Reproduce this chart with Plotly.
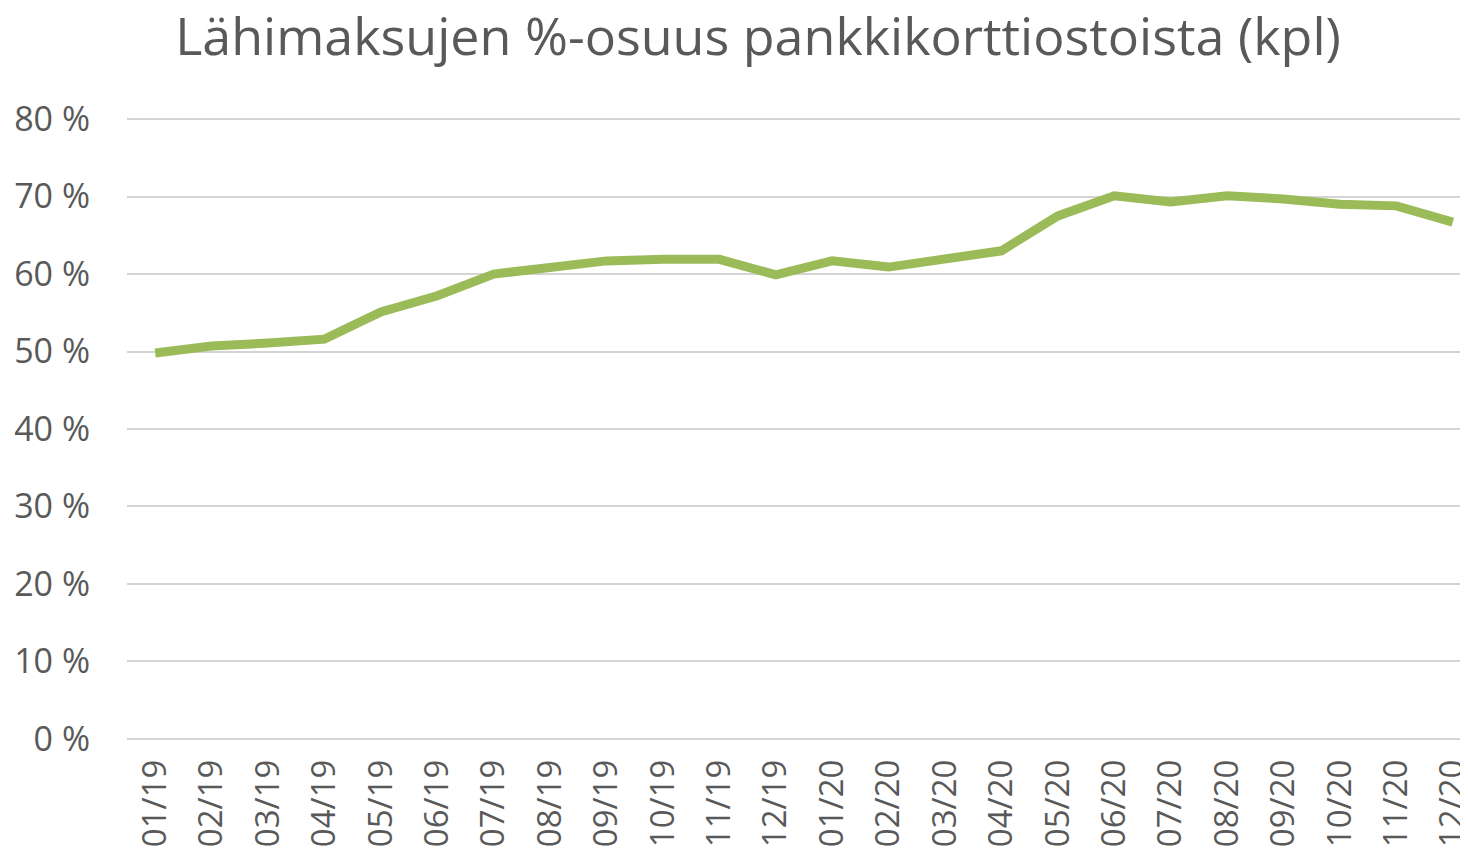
import plotly.graph_objects as go

months = ["01/19", "02/19", "03/19", "04/19", "05/19", "06/19", "07/19", "08/19",
          "09/19", "10/19", "11/19", "12/19", "01/20", "02/20", "03/20", "04/20",
          "05/20", "06/20", "07/20", "08/20", "09/20", "10/20", "11/20", "12/20"]
share = [0.498, 0.507, 0.511, 0.516, 0.551, 0.572, 0.600, 0.609,
         0.617, 0.619, 0.619, 0.599, 0.617, 0.609, 0.619, 0.630,
         0.675, 0.701, 0.693, 0.701, 0.697, 0.690, 0.688, 0.667]
ytick_vals = [0, 0.1, 0.2, 0.3, 0.4, 0.5, 0.6, 0.7, 0.8]
ytick_text = ["0 %", "10 %", "20 %", "30 %", "40 %", "50 %", "60 %", "70 %", "80 %"]
title = "Lähimaksujen %-osuus pankkikorttiostoista (kpl)"

# y range padded slightly so the 0 % and 80 % gridlines are drawn
ypad = 0.004
px_per_unit = 620 / 0.8
pad_px = ypad * px_per_unit

W, H = 1460, 850  # page body has an 8px margin

fig = go.Figure(go.Scatter(
    x=months, y=share, mode="lines",
    line=dict(color="#9BBB59", width=9),
    showlegend=False, hoverinfo="skip"))

fig.update_layout(
    width=W, height=H,
    margin=dict(l=119, r=0, t=111 - pad_px, b=119 - pad_px, autoexpand=False),
    paper_bgcolor="white", plot_bgcolor="white",
    font=dict(family="Open Sans", color="#595959"),
    title=dict(text=title, x=750 / W, xanchor="center", y=1 - 29 / H, yanchor="middle",
               font=dict(size=52, color="#595959", family="Open Sans")),
)
fig.update_xaxes(type="category", range=[-0.5, 23.27], tickangle=-90,
                 tickfont=dict(size=33, color="#595959"),
                 showgrid=False, showline=False, ticks="", ticklabelstandoff=10,
                 automargin=False)
fig.update_yaxes(range=[-ypad, 0.8 + ypad], tickvals=ytick_vals, ticktext=ytick_text,
                 tickfont=dict(size=34, color="#595959"),
                 showgrid=True, gridcolor="#D4D4D4", gridwidth=2,
                 zeroline=False, showline=False, ticks="", ticklabelstandoff=36,
                 automargin=False)

fig.write_html("out.html")
